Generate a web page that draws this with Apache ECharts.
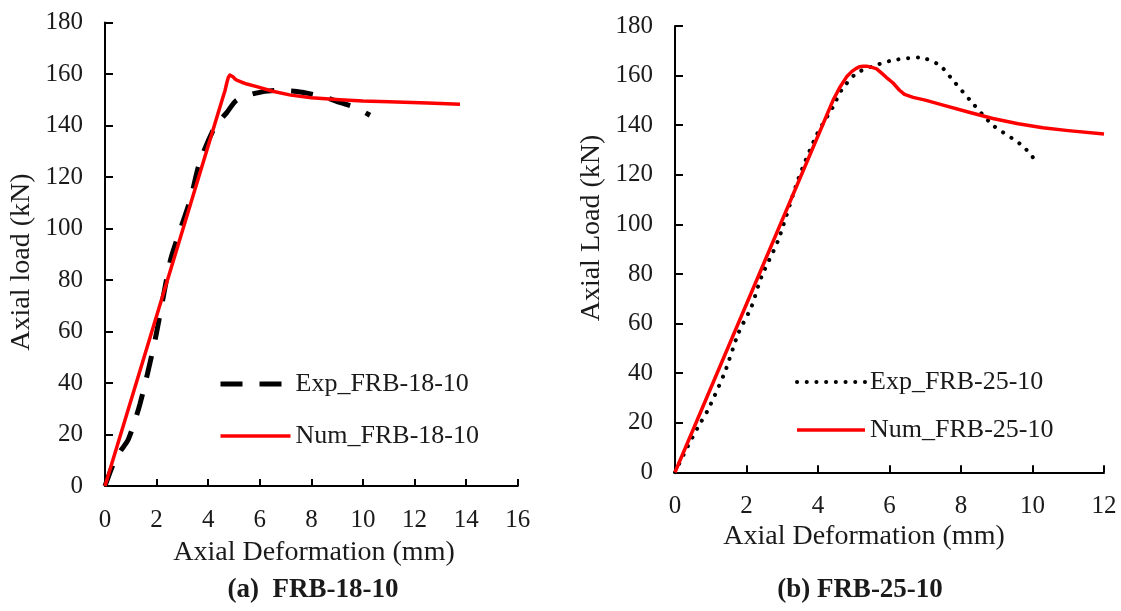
<!DOCTYPE html>
<html>
<head>
<meta charset="utf-8">
<script src="https://cdn.jsdelivr.net/npm/echarts@6/dist/echarts.min.js"></script>
<style>
html,body{margin:0;padding:0;background:#fff;}
#main{width:1121px;height:611px;}
</style>
</head>
<body>
<div id="main"></div>
<script>
// ---- data (x = axial deformation mm, y = axial load kN) ----
const expA = [[0,0],[0.3,8],[0.58,13.3],[0.9,18],[1.36,32],[1.94,56.7],[2.52,87],[2.78,95.5],[3.3,111],[3.68,126],[4.26,139.5],[4.72,145],[5.1,149.8],[5.81,152.5],[6.6,153.6],[7.43,153.2],[8.46,151.2],[9.1,149],[9.7,147],[10.27,144]];
const numA = [[0,0],[4.55,150.3],[4.65,153.5],[4.72,156.5],[4.78,158.7],[4.84,159.6],[4.9,159.5],[4.97,158.8],[5.05,158],[5.15,157.4],[5.3,156.8],[5.5,156.1],[5.88,155.1],[6.5,153.3],[7.2,151.8],[8,150.8],[9.1,150],[10,149.5],[11,149.2],[12.5,148.7],[13.76,148.3]];
const expB = [[0,0],[0.28,8.3],[0.65,18.4],[0.93,25.4],[1.4,40.6],[1.77,56],[2.14,66.8],[2.42,78.9],[2.89,93.7],[3.44,117.9],[3.96,136],[4.42,147.4],[4.66,154.2],[5.07,160.9],[5.54,163.8],[6.1,166.2],[6.84,167.3],[7.4,164.2],[7.77,158.2],[8.33,148.8],[8.89,140],[9.64,132.6],[10.0,127.3],[10.06,123.5]];
const numB = [[0,0],[4.2,142.5],[4.42,150],[4.6,155],[4.8,159.5],[4.95,161.7],[5.07,162.9],[5.17,163.6],[5.26,163.8],[5.36,163.8],[5.45,163.5],[5.63,162.8],[5.78,161],[5.91,159.3],[6.1,157],[6.28,154.1],[6.42,152.4],[6.66,151.2],[7,150.1],[7.5,148.1],[8.2,145.3],[8.89,142.7],[9.6,140.6],[10.29,139],[11,137.8],[12,136.4]];
const namesA = ['Exp_FRB-18-10','Num_FRB-18-10'];
const namesB = ['Exp_FRB-25-10','Num_FRB-25-10'];
const xMaxA = 16, xMaxB = 12, yMax = 180;

const FONT = '"Liberation Serif","Times New Roman",serif';
const TXT = '#1a1a1a';

function xAxisCfg(idx, max){
  return {
    type:'value', gridIndex:idx, min:0, max:max, interval:2,
    axisLine:{show:true, onZero:false, lineStyle:{color:'#000', width:2}},
    axisTick:{show:true, inside:true, length:7, lineStyle:{color:'#000', width:2}},
    axisLabel:{fontFamily:FONT, fontSize:25, color:TXT, margin:22},
    splitLine:{show:false}
  };
}
function yAxisCfg(idx){
  return {
    type:'value', gridIndex:idx, min:0, max:yMax, interval:20,
    axisLine:{show:true, lineStyle:{color:'#000', width:2}},
    axisTick:{show:true, inside:true, length:8, lineStyle:{color:'#000', width:2}},
    axisLabel:{fontFamily:FONT, fontSize:25, color:TXT, margin:22},
    splitLine:{show:false}
  };
}

const chart = echarts.init(document.getElementById('main'), null, {renderer:'canvas'});
chart.setOption({
  backgroundColor:'#fff',
  animation:false,
  grid:[
    {left:105, top:22.5, width:412.8, height:463.5},
    {left:675, top:26, width:429, height:446.3}
  ],
  xAxis:[xAxisCfg(0, xMaxA), xAxisCfg(1, xMaxB)],
  yAxis:[yAxisCfg(0), yAxisCfg(1)],
  legend:[
    {data:namesA, orient:'vertical', left:218, top:371, padding:0, itemWidth:70, itemHeight:14, itemGap:26,
     itemStyle:{opacity:0}, lineStyle:{width:'inherit'},
     textStyle:{fontFamily:FONT, fontSize:26, color:TXT}},
    {data:namesB, orient:'vertical', left:795, top:369, padding:0, itemWidth:68, itemHeight:14, itemGap:22,
     itemStyle:{opacity:0}, lineStyle:{width:'inherit'},
     textStyle:{fontFamily:FONT, fontSize:26, color:TXT}}
  ],
  series:[
    {name:namesA[0], type:'line', xAxisIndex:0, yAxisIndex:0, data:expA, symbol:'none', smooth:0.25,
     lineStyle:{color:'#000', width:5, type:[22,17]}, itemStyle:{color:'#000'}, z:2},
    {name:namesA[1], type:'line', xAxisIndex:0, yAxisIndex:0, data:numA, symbol:'none', smooth:false,
     lineStyle:{color:'#ff0000', width:3.5, join:'round'}, itemStyle:{color:'#ff0000'}, z:3},
    {name:namesB[0], type:'line', xAxisIndex:1, yAxisIndex:1, data:expB, symbol:'none', smooth:0.25,
     lineStyle:{color:'#000', width:4, type:[0.1,9.6], cap:'round'}, itemStyle:{color:'#000'}, z:2},
    {name:namesB[1], type:'line', xAxisIndex:1, yAxisIndex:1, data:numB, symbol:'none', smooth:false,
     lineStyle:{color:'#ff0000', width:3.5, join:'round'}, itemStyle:{color:'#ff0000'}, z:3}
  ],
  graphic:[
    {type:'text', x:22, y:262, rotation:Math.PI/2,
     style:{text:'Axial load (kN)', font:'28px '+FONT, fill:TXT, textAlign:'center', textVerticalAlign:'middle'}},
    {type:'text', x:592, y:228, rotation:Math.PI/2,
     style:{text:'Axial Load (kN)', font:'28px '+FONT, fill:TXT, textAlign:'center', textVerticalAlign:'middle'}},
    {type:'text', x:314, y:553,
     style:{text:'Axial Deformation (mm)', font:'28px '+FONT, fill:TXT, textAlign:'center', textVerticalAlign:'middle'}},
    {type:'text', x:864, y:537,
     style:{text:'Axial Deformation (mm)', font:'28px '+FONT, fill:TXT, textAlign:'center', textVerticalAlign:'middle'}},
    {type:'text', x:313, y:590,
     style:{text:'(a)  FRB-18-10', font:'bold 27px '+FONT, fill:TXT, textAlign:'center', textVerticalAlign:'middle'}},
    {type:'text', x:860, y:590,
     style:{text:'(b) FRB-25-10', font:'bold 27px '+FONT, fill:TXT, textAlign:'center', textVerticalAlign:'middle'}}
  ]
});
</script>
</body>
</html>
